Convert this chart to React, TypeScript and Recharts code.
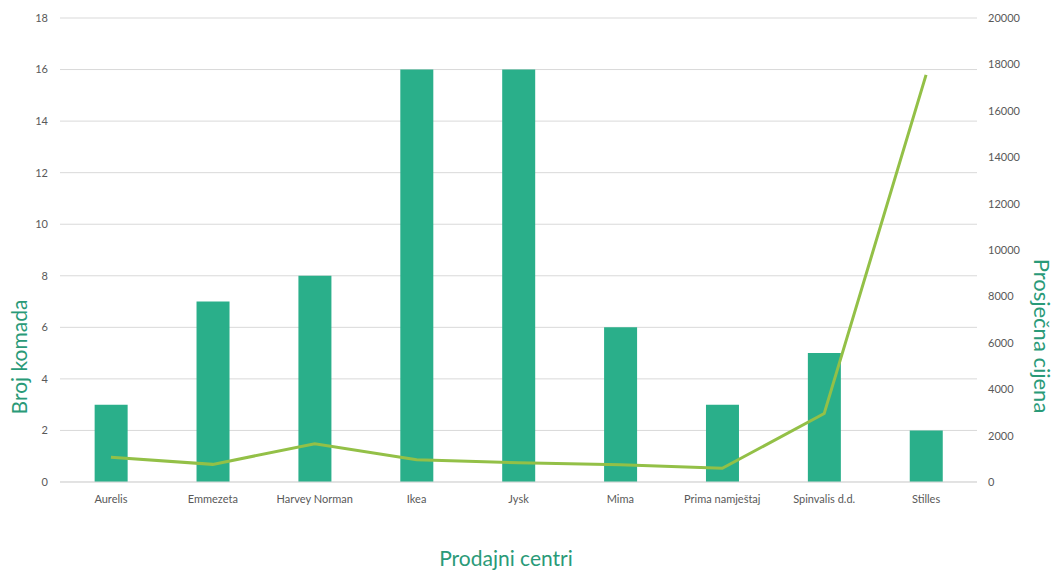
import { ComposedChart, Bar, Line, XAxis, YAxis, CartesianGrid, Label } from 'recharts'

const centres = ['Aurelis', 'Emmezeta', 'Harvey Norman', 'Ikea', 'Jysk', 'Mima', 'Prima namještaj', 'Spinvalis d.d.', 'Stilles']
const pieces = [3, 7, 8, 16, 16, 6, 3, 5, 2]
const avgPrice = [1070, 760, 1650, 960, 830, 745, 590, 2950, 17550]
const countTicks = [0, 2, 4, 6, 8, 10, 12, 14, 16, 18]
const priceTicks = [0, 2000, 4000, 6000, 8000, 10000, 12000, 14000, 16000, 18000, 20000]

const data = centres.map((name, i) => ({ name, pieces: pieces[i], price: avgPrice[i] }))

const FONT = 'Lato, "Open Sans", sans-serif'
const TEAL_TEXT = '#2a9a78'

const axisTitle = (text: string, x: number, y: number, angle: number, size = 21) => () => (
  <text
    x={x}
    y={y}
    transform={angle ? `rotate(${angle}, ${x}, ${y})` : undefined}
    textAnchor="middle"
    dominantBaseline="central"
    fill={TEAL_TEXT}
    fontSize={size}
    fontFamily={FONT}
  >
    {text}
  </text>
)

export default function App() {
  return (
    <div style={{ position: 'fixed', top: 0, left: 0, width: 1055, height: 570, background: '#fff' }}>
      <style>{'html,body{margin:0;overflow:hidden}'}</style>
      <ComposedChart
        width={1055}
        height={570}
        data={data}
        barCategoryGap="34%"
        margin={{ top: 18, right: 18, left: 10, bottom: 58 }}
      >
        <CartesianGrid vertical={false} stroke="#d9d9d9" yAxisId="left" />
        <XAxis
          dataKey="name"
          axisLine={{ stroke: '#d9d9d9' }}
          tickLine={false}
          tickMargin={7}
          height={30}
          interval={0}
          tick={{ fill: '#595959', fontSize: 11, fontFamily: FONT }}
        >
          <Label content={axisTitle('Prodajni centri', 506, 557, 0)} />
        </XAxis>
        <YAxis
          yAxisId="left"
          domain={[0, 18]}
          ticks={countTicks}
          axisLine={false}
          tickLine={false}
          tickSize={0}
          tickMargin={12}
          width={50}
          tick={{ fill: '#595959', fontSize: 11, fontFamily: FONT }}
        >
          <Label content={axisTitle('Broj komada', 18, 357, -90)} />
        </YAxis>
        <YAxis
          yAxisId="right"
          orientation="right"
          domain={[0, 20000]}
          ticks={priceTicks}
          axisLine={false}
          tickLine={false}
          tickSize={0}
          tickMargin={11}
          width={60}
          tick={{ fill: '#595959', fontSize: 11, fontFamily: FONT }}
        >
          <Label content={axisTitle('Prosječna cijena', 1042, 336, 90, 22)} />
        </YAxis>
        <Bar yAxisId="left" dataKey="pieces" fill="#2aaf8a" isAnimationActive={false} />
        <Line
          yAxisId="right"
          dataKey="price"
          type="linear"
          stroke="#93c047"
          strokeWidth={3}
          dot={false}
          activeDot={false}
          isAnimationActive={false}
        />
      </ComposedChart>
    </div>
  )
}
